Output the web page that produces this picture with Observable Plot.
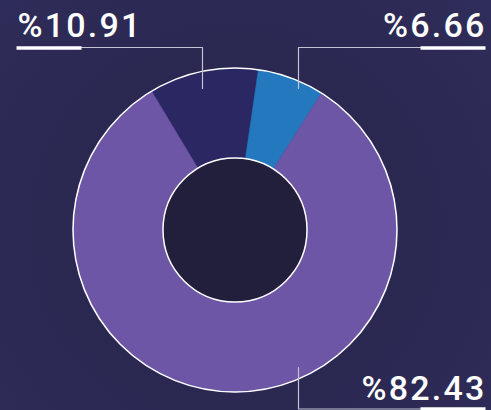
<!DOCTYPE html>
<html><head><meta charset="utf-8">
<script src="https://cdn.jsdelivr.net/npm/d3@7"></script>
<script src="https://cdn.jsdelivr.net/npm/@observablehq/plot@0.6"></script>
<style>
html,body{margin:0;padding:0;background:#2a2850;}
#chart svg text{letter-spacing:2.2px;}
</style>
</head><body><div id="chart"></div>
<script>
// data
const categories = ["%10.91", "%6.66", "%82.43"];
const values = [10.91, 6.66, 82.43];
const labels = ["%10.91", "%6.66", "%82.43"];
const palette = ["#2a2763", "#2378be", "#6c56a5"];

// layout
const W = 491, H = 410;
const CX = 235, CY = 230, R_OUT = 162, R_IN = 72;
const START_DEG = -31;

const labelPos = [
  {x: 17, y: 36, anchor: "start"},
  {x: 486, y: 36, anchor: "end"},
  {x: 486, y: 399, anchor: "end"}
];
const bars = [
  [16, 47.5, 81, 47.5],
  [420, 47.5, 485, 47.5],
  [420, 408.5, 485, 408.5]
];
const leaders = [
  [[81, 47], [202, 47], [202, 88]],
  [[420, 47], [298, 47], [298, 88]],
  [[298, 367], [298, 408.5], [420, 408.5]]
];

const data = categories.map((c, i) => ({category: c, value: values[i], label: labels[i], color: palette[i]}));
const pie = d3.pie().sort(null).value(d => d.value)
  .startAngle(START_DEG * Math.PI / 180)
  .endAngle(START_DEG * Math.PI / 180 + 2 * Math.PI);
const arcs = pie(data);

function donutMark(...args) {
  const scales = args.find(a => a && typeof a === "object" && typeof a.x === "function") || {x: v => v, y: v => v};
  const cx = scales.x(CX), cy = scales.y(CY);
  const rOut = scales.x(CX + R_OUT) - cx, rIn = scales.x(CX + R_IN) - cx;
  const arc = d3.arc().innerRadius(rIn).outerRadius(rOut);
  const g = d3.create("svg:g").attr("transform", `translate(${cx},${cy})`);
  g.selectAll("path.slice").data(arcs).join("path")
    .attr("class", "slice")
    .attr("d", arc)
    .attr("fill", d => d.data.color)
    .attr("stroke", d => d.data.color)
    .attr("stroke-width", 0.5);
  g.append("circle").attr("r", rOut).attr("fill", "none").attr("stroke", "white").attr("stroke-width", 1.5);
  g.append("circle").attr("r", rIn).attr("fill", "#221f3d").attr("stroke", "white").attr("stroke-width", 1.5);
  return g.node();
}

const leaderRows = leaders.flatMap((pts, i) => pts.map(([x, y]) => ({x, y, k: i})));
const textRows = data.map((d, i) => ({...d, ...labelPos[i]}));

const chart = Plot.plot({
  width: W, height: H,
  margin: 0,
  x: {domain: [0, W], range: [0, W], axis: null},
  y: {domain: [0, H], range: [0, H], axis: null},
  style: {background: "radial-gradient(circle at 48% 56%, #242141 0%, #2a2851 45%, #2f2d59 100%)", color: "white"},
  marks: [
    donutMark,
    Plot.line(leaderRows, {x: "x", y: "y", z: "k", stroke: "#c4c3d2", strokeWidth: 1.2, curve: "linear"}),
    Plot.link(bars, {x1: d => d[0], y1: d => d[1], x2: d => d[2], y2: d => d[3], stroke: "white", strokeWidth: 3.5}),
    Plot.text(textRows.filter(d => d.anchor === "start"), {x: "x", y: "y", text: "label", textAnchor: "start", lineAnchor: "bottom", fill: "white", fontSize: 34, fontFamily: "Roboto", fontWeight: 500}),
    Plot.text(textRows.filter(d => d.anchor === "end"), {x: "x", y: "y", text: "label", textAnchor: "end", lineAnchor: "bottom", fill: "white", fontSize: 34, fontFamily: "Roboto", fontWeight: 500})
  ]
});
document.getElementById("chart").append(chart);
</script>
</body></html>
